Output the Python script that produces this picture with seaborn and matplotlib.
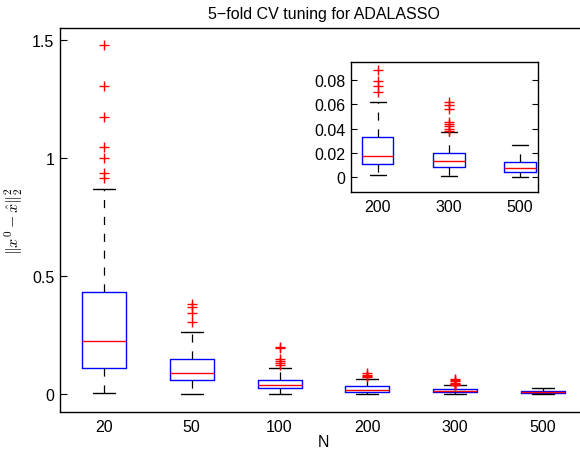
import matplotlib
matplotlib.use("Agg")
import matplotlib.pyplot as plt
import seaborn as sns

sns.set_theme(style="white")
plt.rcParams["font.family"] = ["Liberation Sans", "DejaVu Sans"]
plt.rcParams["mathtext.fontset"] = "cm"
plt.rcParams["text.color"] = "black"
plt.rcParams["axes.labelcolor"] = "black"

# Sample sizes and summary statistics of the estimation error per N
sizes = ["20", "50", "100", "200", "300", "500"]
whisker_low = [0.0055, 0.001, 0.002, 0.0019, 0.0014, 0.0]
q1 = [0.110, 0.058, 0.024, 0.0107, 0.0085, 0.0041]
median = [0.226, 0.090, 0.037, 0.0175, 0.0132, 0.0077]
q3 = [0.430, 0.149, 0.059, 0.0329, 0.0197, 0.0129]
whisker_high = [0.867, 0.262, 0.111, 0.0616, 0.037, 0.0268]
outliers = [
    [1.478, 1.305, 1.171, 1.047, 0.998, 0.936, 0.914],
    [0.379, 0.370, 0.343, 0.303],
    [0.200, 0.195, 0.150, 0.140, 0.130, 0.122],
    [0.0882, 0.0792, 0.0753, 0.0704],
    [0.0616, 0.0595, 0.0562, 0.0458, 0.0438, 0.0419, 0.0397, 0.0384],
    [],
]
inset_sizes = ["200", "300", "500"]

stats = [
    dict(label=s, whislo=wl, q1=a, med=m, q3=b, whishi=wh, fliers=f)
    for s, wl, a, m, b, wh, f in zip(sizes, whisker_low, q1, median, q3,
                                      whisker_high, outliers)
]

box_style = dict(
    boxprops=dict(color="blue", linewidth=1.0),
    medianprops=dict(color="red", linewidth=1.0),
    whiskerprops=dict(color="black", linewidth=0.9, linestyle=(0, (6.5, 7))),
    capprops=dict(color="black", linewidth=1.0),
    flierprops=dict(marker="+", markeredgecolor="red", markersize=7.5,
                    markeredgewidth=1.0, linestyle="none"),
)

fs = 11.5

fig = plt.figure(figsize=(5.8, 4.56), dpi=100)
ax = fig.add_axes([0.1034, 0.0943, 0.9086, 0.8421])
ax.bxp(stats, positions=range(1, 7), widths=0.5, capwidths=0.25,
       showfliers=True, **box_style)
ax.set_xlim(0.5, 6.5)
ax.set_ylim(-0.076, 1.549)
ax.set_yticks([0, 0.5, 1, 1.5])
ax.set_yticklabels(["0", "0.5", "1", "1.5"])
ax.set_xticks(range(1, 7))
ax.set_xticklabels(sizes)
ax.tick_params(axis="y", direction="in", length=5, width=0.8, left=True,
               labelsize=fs, pad=4, colors="black")
ax.tick_params(axis="x", length=0, labelsize=fs, pad=5, colors="black")
for side in ["left", "bottom", "top"]:
    ax.spines[side].set_color("black")
    ax.spines[side].set_linewidth(1.0)
ax.spines["right"].set_visible(False)
ax.set_xlabel("N", fontsize=fs, labelpad=0, color="black")
ax.set_ylabel(r"$\|x^0 - \hat{x}\|_2^2$", fontsize=11.5, color="black")
ax.yaxis.set_label_coords(-0.066, 0.5)
ax.set_title("5\u2212fold CV tuning for ADALASSO", fontsize=fs, pad=7,
             color="black")

# Zoomed view of the three largest sample sizes
ins = fig.add_axes([0.605, 0.5768, 0.3224, 0.2857])
ins.bxp(stats[3:], positions=range(1, 4), widths=0.44, capwidths=0.22,
        showfliers=True, **box_style)
ins.set_xlim(0.624, 3.25)
ins.set_ylim(-0.0121, 0.095)
ins.set_yticks([0, 0.02, 0.04, 0.06, 0.08])
ins.set_yticklabels(["0", "0.02", "0.04", "0.06", "0.08"])
ins.set_xticks(range(1, 4))
ins.set_xticklabels(inset_sizes)
ins.tick_params(axis="y", direction="in", length=4, width=0.8, left=True,
                right=True, labelsize=fs, pad=4, colors="black")
ins.tick_params(axis="x", length=0, labelsize=fs, pad=5, colors="black")
for side in ins.spines.values():
    side.set_color("black")
    side.set_linewidth(1.0)

fig.savefig("out.png", dpi=100)
